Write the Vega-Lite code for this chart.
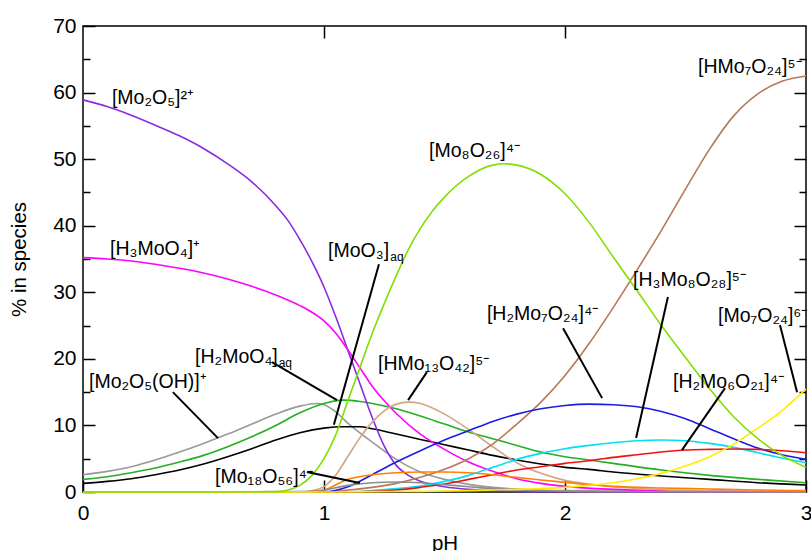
{
"$schema": "https://vega.github.io/schema/vega-lite/v6.json",
"width": 723, "height": 466,
"autosize": {"type": "none"},
"padding": {"left": 83, "top": 26, "right": 5, "bottom": 59},
"background": "white",
"config": {
 "view": {"stroke": "black", "strokeWidth": 1.5},
 "font": "Liberation Sans",
 "axis": {"grid": false, "domain": false, "tickColor": "black", "tickWidth": 1.5, "labelColor": "black", "titleColor": "black", "labelFont": "Liberation Sans", "titleFont": "Liberation Sans", "titleFontWeight": "normal", "labelFlush": false, "labelOverlap": false}
},
"datasets": {
 "curves": [
  {"s":"Mo2O5(OH)","p":0,"v":2.6},{"s":"Mo2O5(OH)","p":0.1,"v":3.1},{"s":"Mo2O5(OH)","p":0.2,"v":3.8},{"s":"Mo2O5(OH)","p":0.3,"v":4.8},{"s":"Mo2O5(OH)","p":0.4,"v":6.0},{"s":"Mo2O5(OH)","p":0.5,"v":7.3},{"s":"Mo2O5(OH)","p":0.6,"v":8.7},{"s":"Mo2O5(OH)","p":0.7,"v":10.2},{"s":"Mo2O5(OH)","p":0.8,"v":11.7},{"s":"Mo2O5(OH)","p":0.9,"v":12.9},{"s":"Mo2O5(OH)","p":0.97,"v":13.3},{"s":"Mo2O5(OH)","p":1.0,"v":13.1},{"s":"Mo2O5(OH)","p":1.05,"v":12.0},{"s":"Mo2O5(OH)","p":1.1,"v":10.3},{"s":"Mo2O5(OH)","p":1.2,"v":7.5},{"s":"Mo2O5(OH)","p":1.3,"v":4.9},{"s":"Mo2O5(OH)","p":1.4,"v":3.0},{"s":"Mo2O5(OH)","p":1.5,"v":1.9},{"s":"Mo2O5(OH)","p":1.6,"v":1.15},{"s":"Mo2O5(OH)","p":1.7,"v":0.7},{"s":"Mo2O5(OH)","p":1.8,"v":0.45},{"s":"Mo2O5(OH)","p":2.0,"v":0.2},{"s":"Mo2O5(OH)","p":2.5,"v":0.05},{"s":"Mo2O5(OH)","p":3.0,"v":0.01},

  {"s":"H2MoO4","p":0,"v":1.9},{"s":"H2MoO4","p":0.1,"v":2.3},{"s":"H2MoO4","p":0.2,"v":2.9},{"s":"H2MoO4","p":0.3,"v":3.6},{"s":"H2MoO4","p":0.4,"v":4.5},{"s":"H2MoO4","p":0.5,"v":5.5},{"s":"H2MoO4","p":0.6,"v":6.8},{"s":"H2MoO4","p":0.7,"v":8.3},{"s":"H2MoO4","p":0.8,"v":10.0},{"s":"H2MoO4","p":0.9,"v":11.9},{"s":"H2MoO4","p":1.0,"v":13.3},{"s":"H2MoO4","p":1.08,"v":13.8},{"s":"H2MoO4","p":1.15,"v":13.6},{"s":"H2MoO4","p":1.2,"v":13.3},{"s":"H2MoO4","p":1.3,"v":12.5},{"s":"H2MoO4","p":1.4,"v":11.4},{"s":"H2MoO4","p":1.5,"v":10.2},{"s":"H2MoO4","p":1.6,"v":9.0},{"s":"H2MoO4","p":1.7,"v":8.0},{"s":"H2MoO4","p":1.8,"v":7.0},{"s":"H2MoO4","p":1.9,"v":6.0},{"s":"H2MoO4","p":2.0,"v":5.3},{"s":"H2MoO4","p":2.1,"v":4.8},{"s":"H2MoO4","p":2.2,"v":4.3},{"s":"H2MoO4","p":2.4,"v":3.3},{"s":"H2MoO4","p":2.6,"v":2.5},{"s":"H2MoO4","p":2.8,"v":1.9},{"s":"H2MoO4","p":3.0,"v":1.4},

  {"s":"MoO3","p":0,"v":1.3},{"s":"MoO3","p":0.1,"v":1.6},{"s":"MoO3","p":0.2,"v":2.0},{"s":"MoO3","p":0.3,"v":2.6},{"s":"MoO3","p":0.4,"v":3.3},{"s":"MoO3","p":0.5,"v":4.2},{"s":"MoO3","p":0.6,"v":5.3},{"s":"MoO3","p":0.7,"v":6.5},{"s":"MoO3","p":0.8,"v":7.8},{"s":"MoO3","p":0.9,"v":8.9},{"s":"MoO3","p":1.0,"v":9.6},{"s":"MoO3","p":1.08,"v":9.8},{"s":"MoO3","p":1.15,"v":9.8},{"s":"MoO3","p":1.2,"v":9.5},{"s":"MoO3","p":1.3,"v":8.7},{"s":"MoO3","p":1.4,"v":7.9},{"s":"MoO3","p":1.5,"v":7.1},{"s":"MoO3","p":1.6,"v":6.3},{"s":"MoO3","p":1.7,"v":5.5},{"s":"MoO3","p":1.8,"v":4.8},{"s":"MoO3","p":1.9,"v":4.2},{"s":"MoO3","p":2.0,"v":3.7},{"s":"MoO3","p":2.1,"v":3.4},{"s":"MoO3","p":2.2,"v":3.0},{"s":"MoO3","p":2.4,"v":2.4},{"s":"MoO3","p":2.6,"v":1.9},{"s":"MoO3","p":2.8,"v":1.4},{"s":"MoO3","p":3.0,"v":1.05},

  {"s":"Mo2O5","p":0,"v":58.9},{"s":"Mo2O5","p":0.1,"v":57.9},{"s":"Mo2O5","p":0.2,"v":56.6},{"s":"Mo2O5","p":0.3,"v":55.1},{"s":"Mo2O5","p":0.4,"v":53.5},{"s":"Mo2O5","p":0.5,"v":51.6},{"s":"Mo2O5","p":0.6,"v":49.3},{"s":"Mo2O5","p":0.7,"v":46.6},{"s":"Mo2O5","p":0.8,"v":43.0},{"s":"Mo2O5","p":0.85,"v":40.8},{"s":"Mo2O5","p":0.9,"v":37.9},{"s":"Mo2O5","p":0.95,"v":34.6},{"s":"Mo2O5","p":1.0,"v":30.8},{"s":"Mo2O5","p":1.05,"v":26.2},{"s":"Mo2O5","p":1.1,"v":21.2},{"s":"Mo2O5","p":1.15,"v":16.2},{"s":"Mo2O5","p":1.2,"v":11.2},{"s":"Mo2O5","p":1.25,"v":6.9},{"s":"Mo2O5","p":1.3,"v":4.0},{"s":"Mo2O5","p":1.35,"v":2.5},{"s":"Mo2O5","p":1.4,"v":1.6},{"s":"Mo2O5","p":1.5,"v":0.8},{"s":"Mo2O5","p":1.6,"v":0.4},{"s":"Mo2O5","p":1.7,"v":0.2},{"s":"Mo2O5","p":1.8,"v":0.1},{"s":"Mo2O5","p":2.0,"v":0.03},{"s":"Mo2O5","p":2.5,"v":0},{"s":"Mo2O5","p":3.0,"v":0},

  {"s":"H3MoO4","p":0,"v":35.2},{"s":"H3MoO4","p":0.1,"v":35.0},{"s":"H3MoO4","p":0.2,"v":34.7},{"s":"H3MoO4","p":0.3,"v":34.2},{"s":"H3MoO4","p":0.4,"v":33.6},{"s":"H3MoO4","p":0.5,"v":32.9},{"s":"H3MoO4","p":0.6,"v":32.0},{"s":"H3MoO4","p":0.7,"v":30.9},{"s":"H3MoO4","p":0.8,"v":29.6},{"s":"H3MoO4","p":0.9,"v":28.0},{"s":"H3MoO4","p":0.95,"v":27.0},{"s":"H3MoO4","p":1.0,"v":25.7},{"s":"H3MoO4","p":1.05,"v":23.8},{"s":"H3MoO4","p":1.1,"v":21.3},{"s":"H3MoO4","p":1.15,"v":18.6},{"s":"H3MoO4","p":1.2,"v":15.9},{"s":"H3MoO4","p":1.25,"v":13.7},{"s":"H3MoO4","p":1.3,"v":11.8},{"s":"H3MoO4","p":1.4,"v":8.7},{"s":"H3MoO4","p":1.5,"v":6.4},{"s":"H3MoO4","p":1.6,"v":4.5},{"s":"H3MoO4","p":1.7,"v":3.1},{"s":"H3MoO4","p":1.8,"v":2.0},{"s":"H3MoO4","p":1.9,"v":1.3},{"s":"H3MoO4","p":2.0,"v":0.85},{"s":"H3MoO4","p":2.2,"v":0.4},{"s":"H3MoO4","p":2.4,"v":0.2},{"s":"H3MoO4","p":2.6,"v":0.1},{"s":"H3MoO4","p":3.0,"v":0.03},

  {"s":"HMo13O42","p":0,"v":0},{"s":"HMo13O42","p":0.9,"v":0},{"s":"HMo13O42","p":0.95,"v":0.2},{"s":"HMo13O42","p":1.0,"v":0.8},{"s":"HMo13O42","p":1.05,"v":2.6},{"s":"HMo13O42","p":1.1,"v":5.4},{"s":"HMo13O42","p":1.15,"v":8.2},{"s":"HMo13O42","p":1.2,"v":10.5},{"s":"HMo13O42","p":1.25,"v":12.2},{"s":"HMo13O42","p":1.3,"v":13.2},{"s":"HMo13O42","p":1.35,"v":13.5},{"s":"HMo13O42","p":1.4,"v":13.3},{"s":"HMo13O42","p":1.5,"v":11.7},{"s":"HMo13O42","p":1.6,"v":9.4},{"s":"HMo13O42","p":1.7,"v":6.8},{"s":"HMo13O42","p":1.8,"v":4.4},{"s":"HMo13O42","p":1.9,"v":2.8},{"s":"HMo13O42","p":2.0,"v":1.75},{"s":"HMo13O42","p":2.1,"v":1.2},{"s":"HMo13O42","p":2.2,"v":0.8},{"s":"HMo13O42","p":2.4,"v":0.35},{"s":"HMo13O42","p":2.6,"v":0.15},{"s":"HMo13O42","p":3.0,"v":0.03},

  {"s":"HMo7O24","p":0,"v":0},{"s":"HMo7O24","p":1.0,"v":0},{"s":"HMo7O24","p":1.1,"v":0.3},{"s":"HMo7O24","p":1.2,"v":0.7},{"s":"HMo7O24","p":1.3,"v":1.3},{"s":"HMo7O24","p":1.4,"v":2.2},{"s":"HMo7O24","p":1.5,"v":3.4},{"s":"HMo7O24","p":1.6,"v":5.0},{"s":"HMo7O24","p":1.7,"v":7.2},{"s":"HMo7O24","p":1.8,"v":10.2},{"s":"HMo7O24","p":1.9,"v":13.5},{"s":"HMo7O24","p":2.0,"v":17.5},{"s":"HMo7O24","p":2.1,"v":22.3},{"s":"HMo7O24","p":2.2,"v":27.7},{"s":"HMo7O24","p":2.3,"v":33.4},{"s":"HMo7O24","p":2.4,"v":39.3},{"s":"HMo7O24","p":2.5,"v":45.5},{"s":"HMo7O24","p":2.6,"v":51.5},{"s":"HMo7O24","p":2.7,"v":56.5},{"s":"HMo7O24","p":2.8,"v":59.8},{"s":"HMo7O24","p":2.9,"v":61.7},{"s":"HMo7O24","p":3.0,"v":62.5},

  {"s":"H2Mo7O24","p":0,"v":0},{"s":"H2Mo7O24","p":1.0,"v":0.05},{"s":"H2Mo7O24","p":1.1,"v":0.8},{"s":"H2Mo7O24","p":1.2,"v":2.6},{"s":"H2Mo7O24","p":1.3,"v":4.5},{"s":"H2Mo7O24","p":1.4,"v":6.2},{"s":"H2Mo7O24","p":1.5,"v":7.8},{"s":"H2Mo7O24","p":1.6,"v":9.2},{"s":"H2Mo7O24","p":1.7,"v":10.6},{"s":"H2Mo7O24","p":1.8,"v":11.7},{"s":"H2Mo7O24","p":1.9,"v":12.5},{"s":"H2Mo7O24","p":2.0,"v":13.0},{"s":"H2Mo7O24","p":2.1,"v":13.2},{"s":"H2Mo7O24","p":2.2,"v":13.1},{"s":"H2Mo7O24","p":2.3,"v":12.8},{"s":"H2Mo7O24","p":2.4,"v":12.1},{"s":"H2Mo7O24","p":2.5,"v":11.0},{"s":"H2Mo7O24","p":2.6,"v":9.5},{"s":"H2Mo7O24","p":2.7,"v":8.0},{"s":"H2Mo7O24","p":2.8,"v":6.6},{"s":"H2Mo7O24","p":2.9,"v":5.6},{"s":"H2Mo7O24","p":3.0,"v":4.9},

  {"s":"H3Mo8O28","p":0,"v":0},{"s":"H3Mo8O28","p":1.1,"v":0},{"s":"H3Mo8O28","p":1.2,"v":0.2},{"s":"H3Mo8O28","p":1.3,"v":0.5},{"s":"H3Mo8O28","p":1.4,"v":0.9},{"s":"H3Mo8O28","p":1.5,"v":1.6},{"s":"H3Mo8O28","p":1.6,"v":2.5},{"s":"H3Mo8O28","p":1.7,"v":3.7},{"s":"H3Mo8O28","p":1.8,"v":4.9},{"s":"H3Mo8O28","p":1.9,"v":5.8},{"s":"H3Mo8O28","p":2.0,"v":6.5},{"s":"H3Mo8O28","p":2.1,"v":7.0},{"s":"H3Mo8O28","p":2.2,"v":7.4},{"s":"H3Mo8O28","p":2.3,"v":7.7},{"s":"H3Mo8O28","p":2.4,"v":7.8},{"s":"H3Mo8O28","p":2.5,"v":7.7},{"s":"H3Mo8O28","p":2.6,"v":7.3},{"s":"H3Mo8O28","p":2.7,"v":6.7},{"s":"H3Mo8O28","p":2.8,"v":5.9},{"s":"H3Mo8O28","p":2.9,"v":5.1},{"s":"H3Mo8O28","p":3.0,"v":4.4},

  {"s":"H2Mo6O21","p":0,"v":0},{"s":"H2Mo6O21","p":1.1,"v":0},{"s":"H2Mo6O21","p":1.2,"v":0.1},{"s":"H2Mo6O21","p":1.3,"v":0.3},{"s":"H2Mo6O21","p":1.4,"v":0.7},{"s":"H2Mo6O21","p":1.5,"v":1.2},{"s":"H2Mo6O21","p":1.6,"v":1.9},{"s":"H2Mo6O21","p":1.7,"v":2.6},{"s":"H2Mo6O21","p":1.8,"v":3.3},{"s":"H2Mo6O21","p":1.9,"v":3.8},{"s":"H2Mo6O21","p":2.0,"v":4.3},{"s":"H2Mo6O21","p":2.1,"v":4.7},{"s":"H2Mo6O21","p":2.2,"v":5.2},{"s":"H2Mo6O21","p":2.3,"v":5.6},{"s":"H2Mo6O21","p":2.4,"v":6.0},{"s":"H2Mo6O21","p":2.5,"v":6.3},{"s":"H2Mo6O21","p":2.6,"v":6.4},{"s":"H2Mo6O21","p":2.7,"v":6.45},{"s":"H2Mo6O21","p":2.8,"v":6.4},{"s":"H2Mo6O21","p":2.9,"v":6.2},{"s":"H2Mo6O21","p":3.0,"v":5.9},

  {"s":"orange","p":0,"v":0},{"s":"orange","p":0.9,"v":0},{"s":"orange","p":1.0,"v":0.3},{"s":"orange","p":1.05,"v":1.1},{"s":"orange","p":1.1,"v":1.9},{"s":"orange","p":1.2,"v":2.6},{"s":"orange","p":1.3,"v":2.9},{"s":"orange","p":1.4,"v":3.0},{"s":"orange","p":1.5,"v":3.0},{"s":"orange","p":1.6,"v":2.9},{"s":"orange","p":1.7,"v":2.6},{"s":"orange","p":1.8,"v":2.2},{"s":"orange","p":1.9,"v":1.8},{"s":"orange","p":2.0,"v":1.45},{"s":"orange","p":2.1,"v":1.1},{"s":"orange","p":2.2,"v":0.85},{"s":"orange","p":2.4,"v":0.6},{"s":"orange","p":2.6,"v":0.45},{"s":"orange","p":2.8,"v":0.3},{"s":"orange","p":3.0,"v":0.2},

  {"s":"Mo18O56","p":0,"v":0},{"s":"Mo18O56","p":0.95,"v":0},{"s":"Mo18O56","p":1.0,"v":0.3},{"s":"Mo18O56","p":1.1,"v":1.0},{"s":"Mo18O56","p":1.2,"v":1.4},{"s":"Mo18O56","p":1.3,"v":1.5},{"s":"Mo18O56","p":1.4,"v":1.4},{"s":"Mo18O56","p":1.5,"v":1.1},{"s":"Mo18O56","p":1.6,"v":0.8},{"s":"Mo18O56","p":1.7,"v":0.5},{"s":"Mo18O56","p":1.8,"v":0.3},{"s":"Mo18O56","p":2.0,"v":0.1},{"s":"Mo18O56","p":2.2,"v":0.05},{"s":"Mo18O56","p":3.0,"v":0},

  {"s":"Mo7O24","p":0,"v":0},{"s":"Mo7O24","p":1.0,"v":0},{"s":"Mo7O24","p":1.2,"v":0.05},{"s":"Mo7O24","p":1.4,"v":0.1},{"s":"Mo7O24","p":1.6,"v":0.2},{"s":"Mo7O24","p":1.8,"v":0.4},{"s":"Mo7O24","p":1.9,"v":0.5},{"s":"Mo7O24","p":2.0,"v":0.7},{"s":"Mo7O24","p":2.1,"v":1.0},{"s":"Mo7O24","p":2.2,"v":1.4},{"s":"Mo7O24","p":2.3,"v":2.0},{"s":"Mo7O24","p":2.4,"v":2.8},{"s":"Mo7O24","p":2.5,"v":3.9},{"s":"Mo7O24","p":2.6,"v":5.3},{"s":"Mo7O24","p":2.7,"v":7.2},{"s":"Mo7O24","p":2.8,"v":9.6},{"s":"Mo7O24","p":2.9,"v":12.2},{"s":"Mo7O24","p":3.0,"v":15.5},

  {"s":"Mo8O26","p":0,"v":0},{"s":"Mo8O26","p":0.5,"v":0},{"s":"Mo8O26","p":0.8,"v":0.05},{"s":"Mo8O26","p":0.85,"v":0.3},{"s":"Mo8O26","p":0.9,"v":1.0},{"s":"Mo8O26","p":0.95,"v":2.5},{"s":"Mo8O26","p":1.0,"v":5.0},{"s":"Mo8O26","p":1.05,"v":8.7},{"s":"Mo8O26","p":1.1,"v":13.8},{"s":"Mo8O26","p":1.15,"v":18.8},{"s":"Mo8O26","p":1.2,"v":23.8},{"s":"Mo8O26","p":1.25,"v":28.3},{"s":"Mo8O26","p":1.3,"v":32.5},{"s":"Mo8O26","p":1.35,"v":36.4},{"s":"Mo8O26","p":1.4,"v":39.6},{"s":"Mo8O26","p":1.45,"v":42.2},{"s":"Mo8O26","p":1.5,"v":44.3},{"s":"Mo8O26","p":1.6,"v":47.4},{"s":"Mo8O26","p":1.7,"v":49.1},{"s":"Mo8O26","p":1.75,"v":49.3},{"s":"Mo8O26","p":1.8,"v":49.1},{"s":"Mo8O26","p":1.9,"v":47.7},{"s":"Mo8O26","p":2.0,"v":44.8},{"s":"Mo8O26","p":2.1,"v":40.5},{"s":"Mo8O26","p":2.2,"v":35.3},{"s":"Mo8O26","p":2.3,"v":30.2},{"s":"Mo8O26","p":2.4,"v":25.0},{"s":"Mo8O26","p":2.5,"v":20.2},{"s":"Mo8O26","p":2.6,"v":15.5},{"s":"Mo8O26","p":2.7,"v":11.3},{"s":"Mo8O26","p":2.8,"v":8.0},{"s":"Mo8O26","p":2.9,"v":5.5},{"s":"Mo8O26","p":3.0,"v":3.7}
 ],
 "leaders": [
  {"x":1.228,"y":34.2,"x2":1.041,"y2":10.1},
  {"x":2.427,"y":29.3,"x2":2.295,"y2":8.1},
  {"x":1.992,"y":24.6,"x2":2.154,"y2":14.1},
  {"x":2.892,"y":25.1,"x2":2.963,"y2":15.0},
  {"x":2.664,"y":15.6,"x2":2.485,"y2":6.3},
  {"x":1.427,"y":18.0,"x2":1.349,"y2":13.8},
  {"x":0.784,"y":19.5,"x2":1.054,"y2":13.8},
  {"x":0.373,"y":15.0,"x2":0.56,"y2":8.1},
  {"x":0.929,"y":3.0,"x2":1.149,"y2":1.35}
 ],
 "labels": [
  {"t":"[Mo₂O₅]²⁺","x":0.12,"y":58.3},
  {"t":"[H₃MoO₄]⁺","x":0.112,"y":35.6},
  {"t":"[MoO₃]","x":1.017,"y":35.3},
  {"t":"[Mo₈O₂₆]⁴⁻","x":1.436,"y":50.3},
  {"t":"[HMo₇O₂₄]⁵⁻","x":2.552,"y":62.9},
  {"t":"[H₃Mo₈O₂₈]⁵⁻","x":2.282,"y":30.9},
  {"t":"[H₂Mo₇O₂₄]⁴⁻","x":1.676,"y":25.8},
  {"t":"[Mo₇O₂₄]⁶⁻","x":2.635,"y":25.5},
  {"t":"[H₂Mo₆O₂₁]⁴⁻","x":2.448,"y":15.6},
  {"t":"[HMo₁₃O₄₂]⁵⁻","x":1.224,"y":18.3},
  {"t":"[H₂MoO₄]","x":0.465,"y":19.4},
  {"t":"[Mo₂O₅(OH)]⁺","x":0.025,"y":15.6},
  {"t":"[Mo₁₈O₅₆]⁴⁻","x":0.548,"y":1.35}
 ],
 "subs": [
  {"t":"aq","x":1.275,"y":34.7},
  {"t":"aq","x":0.812,"y":18.8}
 ]
},
"layer": [
 {
  "data": {"name": "curves"},
  "mark": {"type": "line", "strokeWidth": 1.6, "interpolate": "monotone"},
  "encoding": {
   "x": {"field": "p", "type": "quantitative", "scale": {"domain": [0, 3], "nice": false, "zero": false},
         "axis": {"orient": "bottom", "values": [0, 1, 2, 3], "tickSize": -12, "labelFontSize": 21, "labelPadding": 22, "title": "pH", "titleFontSize": 20.5, "titlePadding": 10}},
   "y": {"field": "v", "type": "quantitative", "scale": {"domain": [0, 70], "nice": false},
         "axis": {"orient": "left", "values": [0, 10, 20, 30, 40, 50, 60, 70], "tickSize": -12, "labelFontSize": 21, "labelPadding": 19, "title": "% in species", "titleFontSize": 20.5, "titlePadding": 23}},
   "color": {"field": "s", "type": "nominal", "legend": null,
     "scale": {"domain": ["Mo2O5(OH)", "H2MoO4", "MoO3", "Mo2O5", "H3MoO4", "HMo13O42", "HMo7O24", "H2Mo7O24", "H3Mo8O28", "H2Mo6O21", "orange", "Mo18O56", "Mo7O24", "Mo8O26"],
               "range": ["#9a9a9a", "#22b022", "#000000", "#8a2be2", "#ff00ff", "#d2a582", "#b87858", "#1c1ce6", "#00e0f0", "#f01010", "#ff8000", "#8c8c8c", "#ffee00", "#80e000"]}}
  }
 },
 {
  "data": {"name": "leaders"},
  "mark": {"type": "rule", "color": "black", "strokeWidth": 2},
  "encoding": {
   "x": {"field": "x", "type": "quantitative", "scale": {"domain": [0, 3], "nice": false, "zero": false},
         "axis": {"orient": "top", "values": [1, 2], "tickSize": -12, "labels": false, "title": null}},
   "y": {"field": "y", "type": "quantitative", "scale": {"domain": [0, 70], "nice": false},
         "axis": {"orient": "right", "values": [10, 20, 30, 40, 50, 60], "tickSize": -12, "labels": false, "title": null}},
   "x2": {"field": "x2"},
   "y2": {"field": "y2"}
  }
 },
 {
  "data": {"name": "labels"},
  "mark": {"type": "text", "align": "left", "baseline": "alphabetic", "fontSize": 19.5, "font": "Liberation Sans", "color": "black"},
  "encoding": {
   "x": {"field": "x", "type": "quantitative", "scale": {"domain": [0, 3], "nice": false, "zero": false}, "axis": null},
   "y": {"field": "y", "type": "quantitative", "scale": {"domain": [0, 70], "nice": false},
         "axis": {"orient": "left", "values": [5, 15, 25, 35, 45, 55, 65], "tickSize": -7, "labels": false, "title": null}},
   "text": {"field": "t"}
  }
 },
 {
  "data": {"name": "subs"},
  "mark": {"type": "text", "align": "left", "baseline": "alphabetic", "fontSize": 12, "font": "Liberation Sans", "color": "black"},
  "encoding": {
   "x": {"field": "x", "type": "quantitative", "scale": {"domain": [0, 3], "nice": false, "zero": false}, "axis": null},
   "y": {"field": "y", "type": "quantitative", "scale": {"domain": [0, 70], "nice": false},
         "axis": {"orient": "right", "values": [5, 15, 25, 35, 45, 55, 65], "tickSize": -7, "labels": false, "title": null}},
   "text": {"field": "t"}
  }
 }
],
"resolve": {"axis": {"x": "independent", "y": "independent"}}
}
